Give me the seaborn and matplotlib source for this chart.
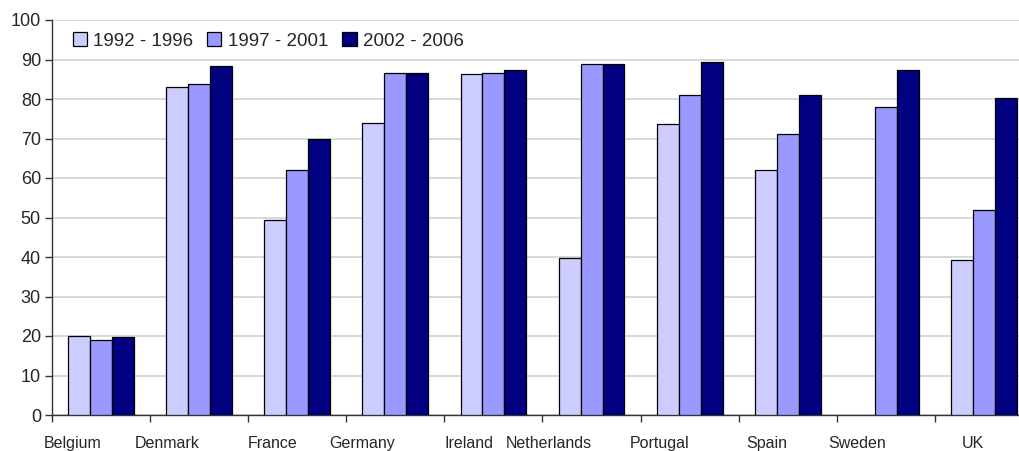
import numpy as np
import pandas as pd
import matplotlib
matplotlib.use("Agg")
import matplotlib.pyplot as plt
import seaborn as sns

countries = ["Belgium", "Denmark", "France", "Germany", "Ireland",
             "Netherlands", "Portugal", "Spain", "Sweden", "UK"]
periods = ["1992 - 1996", "1997 - 2001", "2002 - 2006"]
p1992_1996 = [20.0, 83.1, 49.3, 73.8, 86.3, 39.8, 73.6, 62.0, np.nan, 39.2]
p1997_2001 = [19.0, 83.7, 62.0, 86.6, 86.6, 88.8, 81.0, 71.1, 78.1, 52.0]
p2002_2006 = [19.7, 88.4, 69.8, 86.6, 87.3, 88.8, 89.3, 81.0, 87.3, 80.3]
colors = ["#CCCCFF", "#9999FF", "#000080"]
yticks = list(range(0, 101, 10))

rows = []
for period, vals in zip(periods, [p1992_1996, p1997_2001, p2002_2006]):
    for c, v in zip(countries, vals):
        rows.append({"country": c, "period": period, "value": v})
df = pd.DataFrame(rows)

sns.set_theme(style="white")
plt.rcParams["font.family"] = ["Liberation Sans", "DejaVu Sans"]

fig = plt.figure(figsize=(10.2, 4.51), dpi=100)
ax = fig.add_axes([52 / 1020, 36 / 451, 981 / 1020, 395 / 451])

sns.barplot(data=df, x="country", y="value", hue="period",
            order=countries, hue_order=periods, palette=colors,
            saturation=1, width=0.67, gap=0, edgecolor="black",
            linewidth=0.9, errorbar=None, ax=ax, zorder=3)

ax.set_ylim(0, 100)
ax.set_xlim(-0.5, len(countries) - 0.5)
ax.set_yticks(yticks)
ax.yaxis.grid(True, color="#d6d6d6", linewidth=1.3, zorder=0)
ax.xaxis.grid(False)
ax.set_axisbelow(True)

# category boundaries carry the tick marks; names sit right-aligned at centres
ax.set_xticks(np.arange(-0.5, len(countries), 1.0))
ax.set_xticklabels([])
ax.set_xticks(np.arange(len(countries)), minor=True)
ax.set_xticklabels(countries, minor=True, ha="right", fontsize=11.5)
ax.tick_params(axis="x", which="major", direction="out", length=5,
               width=1, color="#333333", bottom=True)
ax.tick_params(axis="x", which="minor", length=0, pad=15)
ax.tick_params(axis="y", direction="out", length=5, width=1,
               color="#333333", left=True, labelsize=13, pad=3)

for s in ["top", "right"]:
    ax.spines[s].set_visible(False)
for s in ["left", "bottom"]:
    ax.spines[s].set_color("#333333")
    ax.spines[s].set_linewidth(1)

ax.set_xlabel("")
ax.set_ylabel("")

handles, labels = ax.get_legend_handles_labels()
ax.legend(handles, labels, loc="center left", bbox_to_anchor=(0.021, 0.947),
          ncol=3, frameon=False, fontsize=13.5, handlelength=0.75,
          handleheight=0.75, handletextpad=0.35, columnspacing=0.75,
          borderaxespad=0, borderpad=0)

fig.savefig("out.png", dpi=100)
